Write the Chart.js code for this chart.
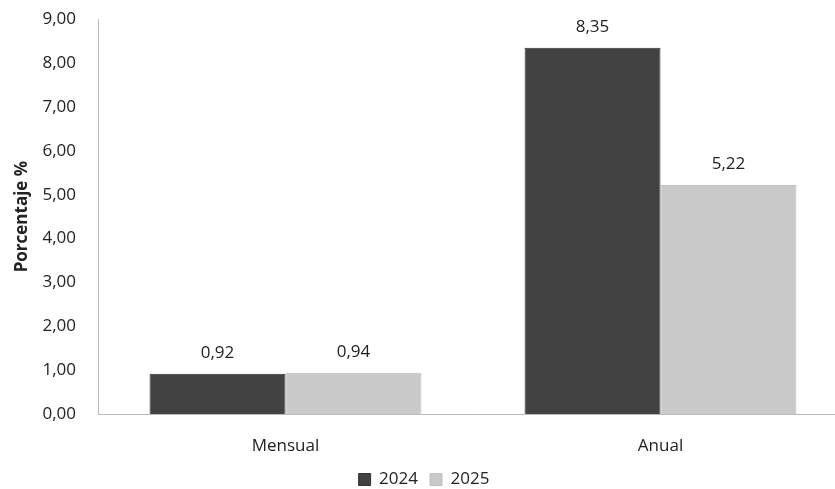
<!DOCTYPE html>
<html>
<head>
<meta charset="utf-8">
<script src="https://cdn.jsdelivr.net/npm/chart.js@4.4.1/dist/chart.umd.min.js"></script>
<style>
    html, body { margin: 0; padding: 0; background: #fff; overflow: hidden; }
    #wrap { width: 850px; height: 511px; margin-top: -13px; }
</style>
</head>
<body>
<div id="wrap"><canvas id="barChart"></canvas></div>
<script>
// datos del grafico
const categories = ["Mensual", "Anual"];
const years = ["2024", "2025"];
const values2024 = [0.92, 8.35];
const values2025 = [0.94, 5.22];
const yTicks = [0, 1, 2, 3, 4, 5, 6, 7, 8, 9];

const fmt = (v) => v.toFixed(2).replace(".", ",");
const FONT = "Open Sans";

// etiquetas encima de cada barra
const barLabels = {
    id: "barLabels",
    afterDatasetsDraw(chart) {
        const ctx = chart.ctx;
        ctx.save();
        ctx.font = "17px '" + FONT + "'";
        ctx.fillStyle = "#222";
        ctx.textAlign = "center";
        ctx.textBaseline = "bottom";
        chart.data.datasets.forEach((ds, i) => {
            chart.getDatasetMeta(i).data.forEach((bar, j) => {
                ctx.fillText(fmt(ds.data[j]), bar.x, bar.y - 12);
            });
        });
        ctx.restore();
    },
};

new Chart(document.getElementById("barChart").getContext("2d"), {
    type: "bar",
    data: {
        labels: categories,
        datasets: [
            {
                label: years[0],
                data: values2024,
                backgroundColor: "#424242",
                borderColor: "#333333",
                borderWidth: 1,
                categoryPercentage: 0.725,
                barPercentage: 1,
            },
            {
                label: years[1],
                data: values2025,
                backgroundColor: "#c9c9c9",
                borderColor: "#c0c0c0",
                borderWidth: 1,
                categoryPercentage: 0.725,
                barPercentage: 1,
            },
        ],
    },
    options: {
        responsive: true,
        maintainAspectRatio: false,
        animation: false,
        layout: { padding: { top: 0, right: 2, left: 0, bottom: 0 } },
        scales: {
            x: {
                grid: { display: false, drawTicks: false },
                border: { color: "#bbbbbb" },
                ticks: { color: "#222", font: { family: FONT, size: 17 }, padding: 22 },
                afterFit: (scale) => { scale.height = 45; },
            },
            y: {
                min: 0,
                max: 9,
                afterBuildTicks: (axis) => {
                    axis.ticks = yTicks.map((v) => ({ value: v }));
                },
                afterFit: (scale) => { scale.width = 98; },
                grid: { display: false, drawTicks: false },
                border: { color: "#bbbbbb" },
                title: {
                    display: true,
                    text: "Porcentaje %",
                    color: "#222",
                    font: { family: FONT, size: 17, weight: "bold" },
                    padding: { top: 12, bottom: 2 },
                },
                ticks: {
                    color: "#222",
                    font: { family: FONT, size: 17 },
                    padding: 22,
                    callback: (v) => fmt(v),
                },
            },
        },
        plugins: {
            legend: {
                position: "bottom",
                labels: {
                    color: "#222",
                    font: { family: FONT, size: 17 },
                    boxWidth: 12,
                    boxHeight: 12,
                    padding: 12,
                },
            },
            tooltip: { enabled: false },
        },
    },
    plugins: [barLabels],
});
</script>
</body>
</html>
